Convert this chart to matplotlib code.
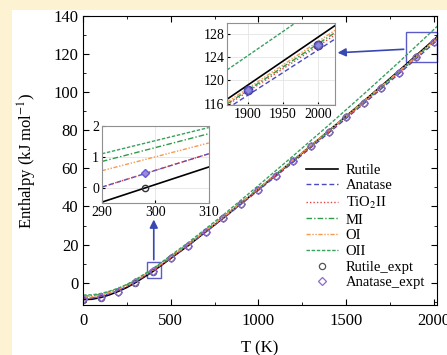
import numpy as np
import matplotlib
matplotlib.use('Agg')
import matplotlib.pyplot as plt
from matplotlib.patches import Rectangle

plt.rcParams['font.family'] = ['Liberation Serif', 'DejaVu Serif']
plt.rcParams['mathtext.fontset'] = 'stix'

# Temperature grid (K) and calculated enthalpies (kJ/mol)
T = [0, 50, 100, 150, 200, 250, 300, 400, 600, 800, 1000, 1200, 1400, 1600, 1800, 2000, 2030]
rutile = [-8.9, -8.7, -7.8, -6.4, -4.6, -2.5, 0.1, 6.0, 19.5, 34.0, 49.0, 64.2, 79.6, 95.2, 111.1, 127.4, 129.9]
anatase = [-8.3, -8.1, -7.2, -5.85, -4.1, -2.0, 0.57, 6.35, 19.55, 33.75, 48.45, 63.35, 78.5, 93.85, 109.5, 125.55, 128.0]
tio2ii = [-8.2, -8.0, -7.1, -5.75, -4.0, -1.95, 0.57, 6.35, 19.7, 34.0, 48.8, 63.8, 79.0, 94.3, 110.1, 126.2, 128.7]
mi = [-7.1, -6.9, -6.1, -4.8, -3.1, -1.1, 1.35, 7.1, 20.4, 34.7, 49.5, 64.4, 79.6, 94.8, 110.5, 126.6, 129.0]
oi = [-7.6, -7.4, -6.5, -5.2, -3.5, -1.45, 1.05, 6.9, 20.2, 34.5, 49.4, 64.45, 79.7, 95.1, 110.8, 126.9, 129.4]
oii = [-6.5, -6.4, -5.7, -4.5, -2.9, -0.9, 1.65, 7.5, 21.1, 35.6, 51.0, 66.7, 82.6, 98.9, 115.6, 132.8, 135.4]

# experimental points
T_expt = [0, 100, 200, 298, 400, 500, 600, 700, 800, 900, 1000, 1100, 1200, 1300,
          1400, 1500, 1600, 1700, 1800, 1900, 2000]
rutile_expt = [-9.0, -7.9, -5.1, 0.0, 5.8, 12.8, 19.4, 26.8, 33.8, 41.3, 48.7, 56.2, 63.9, 71.8,
               79.3, 86.8, 94.5, 102.0, 109.9, 118.4, 126.1]
anatase_expt = [-8.8, -7.7, -4.9, 0.47, 6.0, 12.9, 19.5, 26.8, 33.8, 41.3, 48.7, 56.2, 63.9, 71.8,
                79.3, 86.8, 94.5, 102.0, 109.9, 118.4, 126.1]

# inset near 298 K
T_low = [290, 310]
low = {'rutile': [-0.47, 0.67], 'anatase': [0.02, 1.1], 'tio2ii': [0.02, 1.1],
       'mi': [0.85, 1.75], 'oi': [0.55, 1.45], 'oii': [1.1, 1.95]}

# inset near 2000 K
T_high = [1870, 2025]
high = {'rutile': [116.8, 129.4], 'anatase': [115.2, 127.1], 'tio2ii': [115.8, 127.8],
        'mi': [116.0, 128.2], 'oi': [116.3, 128.6], 'oii': [121.8, 134.5]}

styles = {
    'rutile': dict(color='black', ls='-', lw=1.2, label='Rutile'),
    'anatase': dict(color='#4848c0', ls=(0, (3.5, 2)), lw=1.0, label='Anatase'),
    'tio2ii': dict(color='#e84040', ls=(0, (1, 1.5)), lw=1.0, label='TiO$_2$II'),
    'mi': dict(color='#2f9a48', ls=(0, (4, 1.5, 1, 1.5)), lw=1.0, label='MI'),
    'oi': dict(color='#f59a50', ls=(0, (3, 1.2, 1, 1.2, 1, 1.2)), lw=1.0, label='OI'),
    'oii': dict(color='#3aa060', ls=(0, (2.5, 1.2)), lw=1.0, label='OII'),
}
series = {'rutile': rutile, 'anatase': anatase, 'tio2ii': tio2ii, 'mi': mi, 'oi': oi, 'oii': oii}

fig = plt.figure(figsize=(4.47, 3.55), dpi=100, facecolor='#fdf3d2')
fig.patches.append(Rectangle((12 / 447, 0), 1, 1 - 10 / 355, transform=fig.transFigure,
                             facecolor='white', edgecolor='none', zorder=-10))

ax = fig.add_axes([0.186, 0.141, 0.792, 0.814])
for k, v in series.items():
    ax.plot(T, v, **styles[k])
ax.plot(T_expt, rutile_expt, 'o', ms=4.5, mfc='none', mec='#555555', mew=0.9, label='Rutile_expt')
ax.plot(T_expt, anatase_expt, 'D', ms=3.8, mfc='none', mec='#8a6ad0', mew=0.9, label='Anatase_expt')

ax.set_xlim(0, 2020)
ax.set_ylim(-11.7, 140)
ax.set_xticks([0, 500, 1000, 1500, 2000])
ax.set_xticks([250, 750, 1250, 1750], minor=True)
ax.set_yticks(range(0, 141, 20))
ax.set_yticks(range(-10, 140, 20), minor=True)
ax.tick_params(direction='in', which='both', top=True, right=True, labelsize=12)
ax.tick_params(axis='x', pad=6)
ax.tick_params(which='major', length=4)
ax.tick_params(which='minor', length=2)
ax.set_xlabel('T (K)', fontsize=12, labelpad=8)
ax.set_ylabel('Enthalpy (kJ mol$^{-1}$)', fontsize=12, labelpad=10)

ax.legend(loc='upper left', bbox_to_anchor=(0.61, 0.515), frameon=False, fontsize=10.5,
          handlelength=2.2, handletextpad=0.5, labelspacing=0.17, borderpad=0)

# zoom boxes and arrows
bc = '#5a5ac8'
ax.add_patch(Rectangle((1845, 116), 175, 15.5, fill=False, ec=bc, lw=1.0, clip_on=False))
ax.add_patch(Rectangle((365, 2.6), 80, 8, fill=False, ec=bc, lw=1.0))
ax.annotate('', xy=(1436, 120.6), xytext=(1845, 122.6),
            arrowprops=dict(arrowstyle='-|>', color='#3848b0', lw=1.2, mutation_scale=12))
ax.annotate('', xy=(403, 34.6), xytext=(403, 10.6),
            arrowprops=dict(arrowstyle='-|>', color='#3848b0', lw=1.2, mutation_scale=12))

# inset near 298 K
ax1 = fig.add_axes([0.228, 0.428, 0.239, 0.217])
for k, v in low.items():
    ax1.plot(T_low, v, **styles[k])
ax1.plot([298], [0.0], 'o', ms=4.5, mfc='none', mec='#333333', mew=1.0)
ax1.plot([298], [0.47], 'D', ms=4.5, mfc='#9a8ae0', mec='#6a5ad0', mew=1.0)
ax1.set_xlim(290, 310)
ax1.set_ylim(-0.5, 2.0)
ax1.set_xticks([290, 300, 310])
ax1.set_yticks([0, 1, 2])

# inset near 2000 K
ax2 = fig.add_axes([0.508, 0.704, 0.242, 0.231])
for k, v in high.items():
    ax2.plot(T_high, v, **styles[k])
ax2.plot([1900, 2000], [118.4, 126.1], 'o', ms=6, mfc='#8a8ad8', mec='#3a3a90', mew=1.0)
ax2.plot([1900, 2000], [118.4, 126.1], 'D', ms=4.5, mfc='none', mec='#6a5ad0', mew=0.8)
ax2.set_xlim(1870, 2025)
ax2.set_ylim(115.8, 129.8)
ax2.set_xticks([1900, 1950, 2000])
ax2.set_yticks([116, 120, 124, 128])

for a in (ax1, ax2):
    a.grid(True, color='#e4e4e4', lw=0.6)
    a.set_axisbelow(True)
    a.tick_params(direction='in', labelsize=10, length=2.5, pad=2)
    for s in a.spines.values():
        s.set_color('#909090')

fig.savefig('out.png', dpi=100, facecolor=fig.get_facecolor())
